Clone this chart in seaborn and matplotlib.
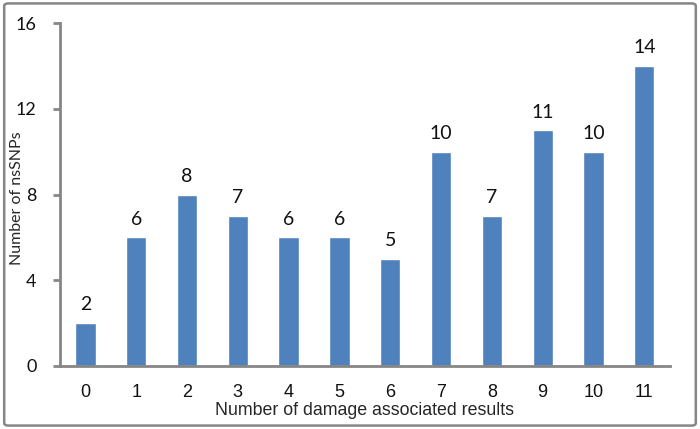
import matplotlib
matplotlib.use("Agg")
import matplotlib.pyplot as plt
import seaborn as sns
import pandas as pd
from matplotlib.patches import FancyBboxPatch

# data
damage_results = [0, 1, 2, 3, 4, 5, 6, 7, 8, 9, 10, 11]
nssnp_counts = [2, 6, 8, 7, 6, 6, 5, 10, 7, 11, 10, 14]
y_ticks = [0, 4, 8, 12, 16]

df = pd.DataFrame({"results": [str(d) for d in damage_results], "count": nssnp_counts})

sns.set_theme(style="white")
plt.rcParams['font.family'] = ['Liberation Sans', 'DejaVu Sans']
calibri_like = ['Lato', 'DejaVu Sans']

fig = plt.figure(figsize=(7, 4.29), dpi=100)
ax = fig.add_axes([0.0857, 0.147, 0.871, 0.799])

sns.barplot(data=df, x="results", y="count", color="#4F81BD", width=0.4,
            saturation=1, ax=ax)

for i, v in enumerate(nssnp_counts):
    ax.text(i, v + 0.45, str(v), ha="center", va="bottom", fontsize=14,
            family=calibri_like, color="#111111")

ax.set_xlim(-0.5, len(damage_results) - 0.5)
ax.set_ylim(0, 16)
ax.set_yticks(y_ticks)
ax.set_yticklabels([str(t) for t in y_ticks], family=calibri_like)

# tick marks sit between the categories, labels at the bar centres
ax.set_xticks([i - 0.5 for i in range(len(damage_results) + 1)])
ax.set_xticklabels([])
ax.set_xticks(range(len(damage_results)), minor=True)
ax.set_xticklabels([str(d) for d in damage_results], minor=True)

gray = "#868686"
for side in ["top", "right"]:
    ax.spines[side].set_visible(False)
for side in ["left", "bottom"]:
    ax.spines[side].set_color(gray)
    ax.spines[side].set_linewidth(2)

ax.tick_params(axis="both", which="major", direction="out", length=5, width=2,
               color=gray, labelcolor="#111111")
ax.tick_params(axis="y", left=True, pad=12, labelsize=13)
ax.tick_params(axis="x", which="minor", length=0, labelsize=13, pad=13,
               labelcolor="#111111")

ax.set_xlabel("Number of damage associated results", fontsize=12.8, va="center")
ax.xaxis.set_label_coords(0.5, -0.13)
ax.set_ylabel("Number of nsSNPs", fontsize=11.5, va="center", family=calibri_like)
ax.yaxis.set_label_coords(-0.071, 0.49)

# rounded outer border of the chart area
border = FancyBboxPatch((0.006, 0.008), 0.988, 0.984,
                        boxstyle="round,pad=0,rounding_size=0.006",
                        transform=fig.transFigure, fill=False,
                        edgecolor=gray, linewidth=1.8)
fig.patches.append(border)

fig.savefig("out.png", dpi=100)
